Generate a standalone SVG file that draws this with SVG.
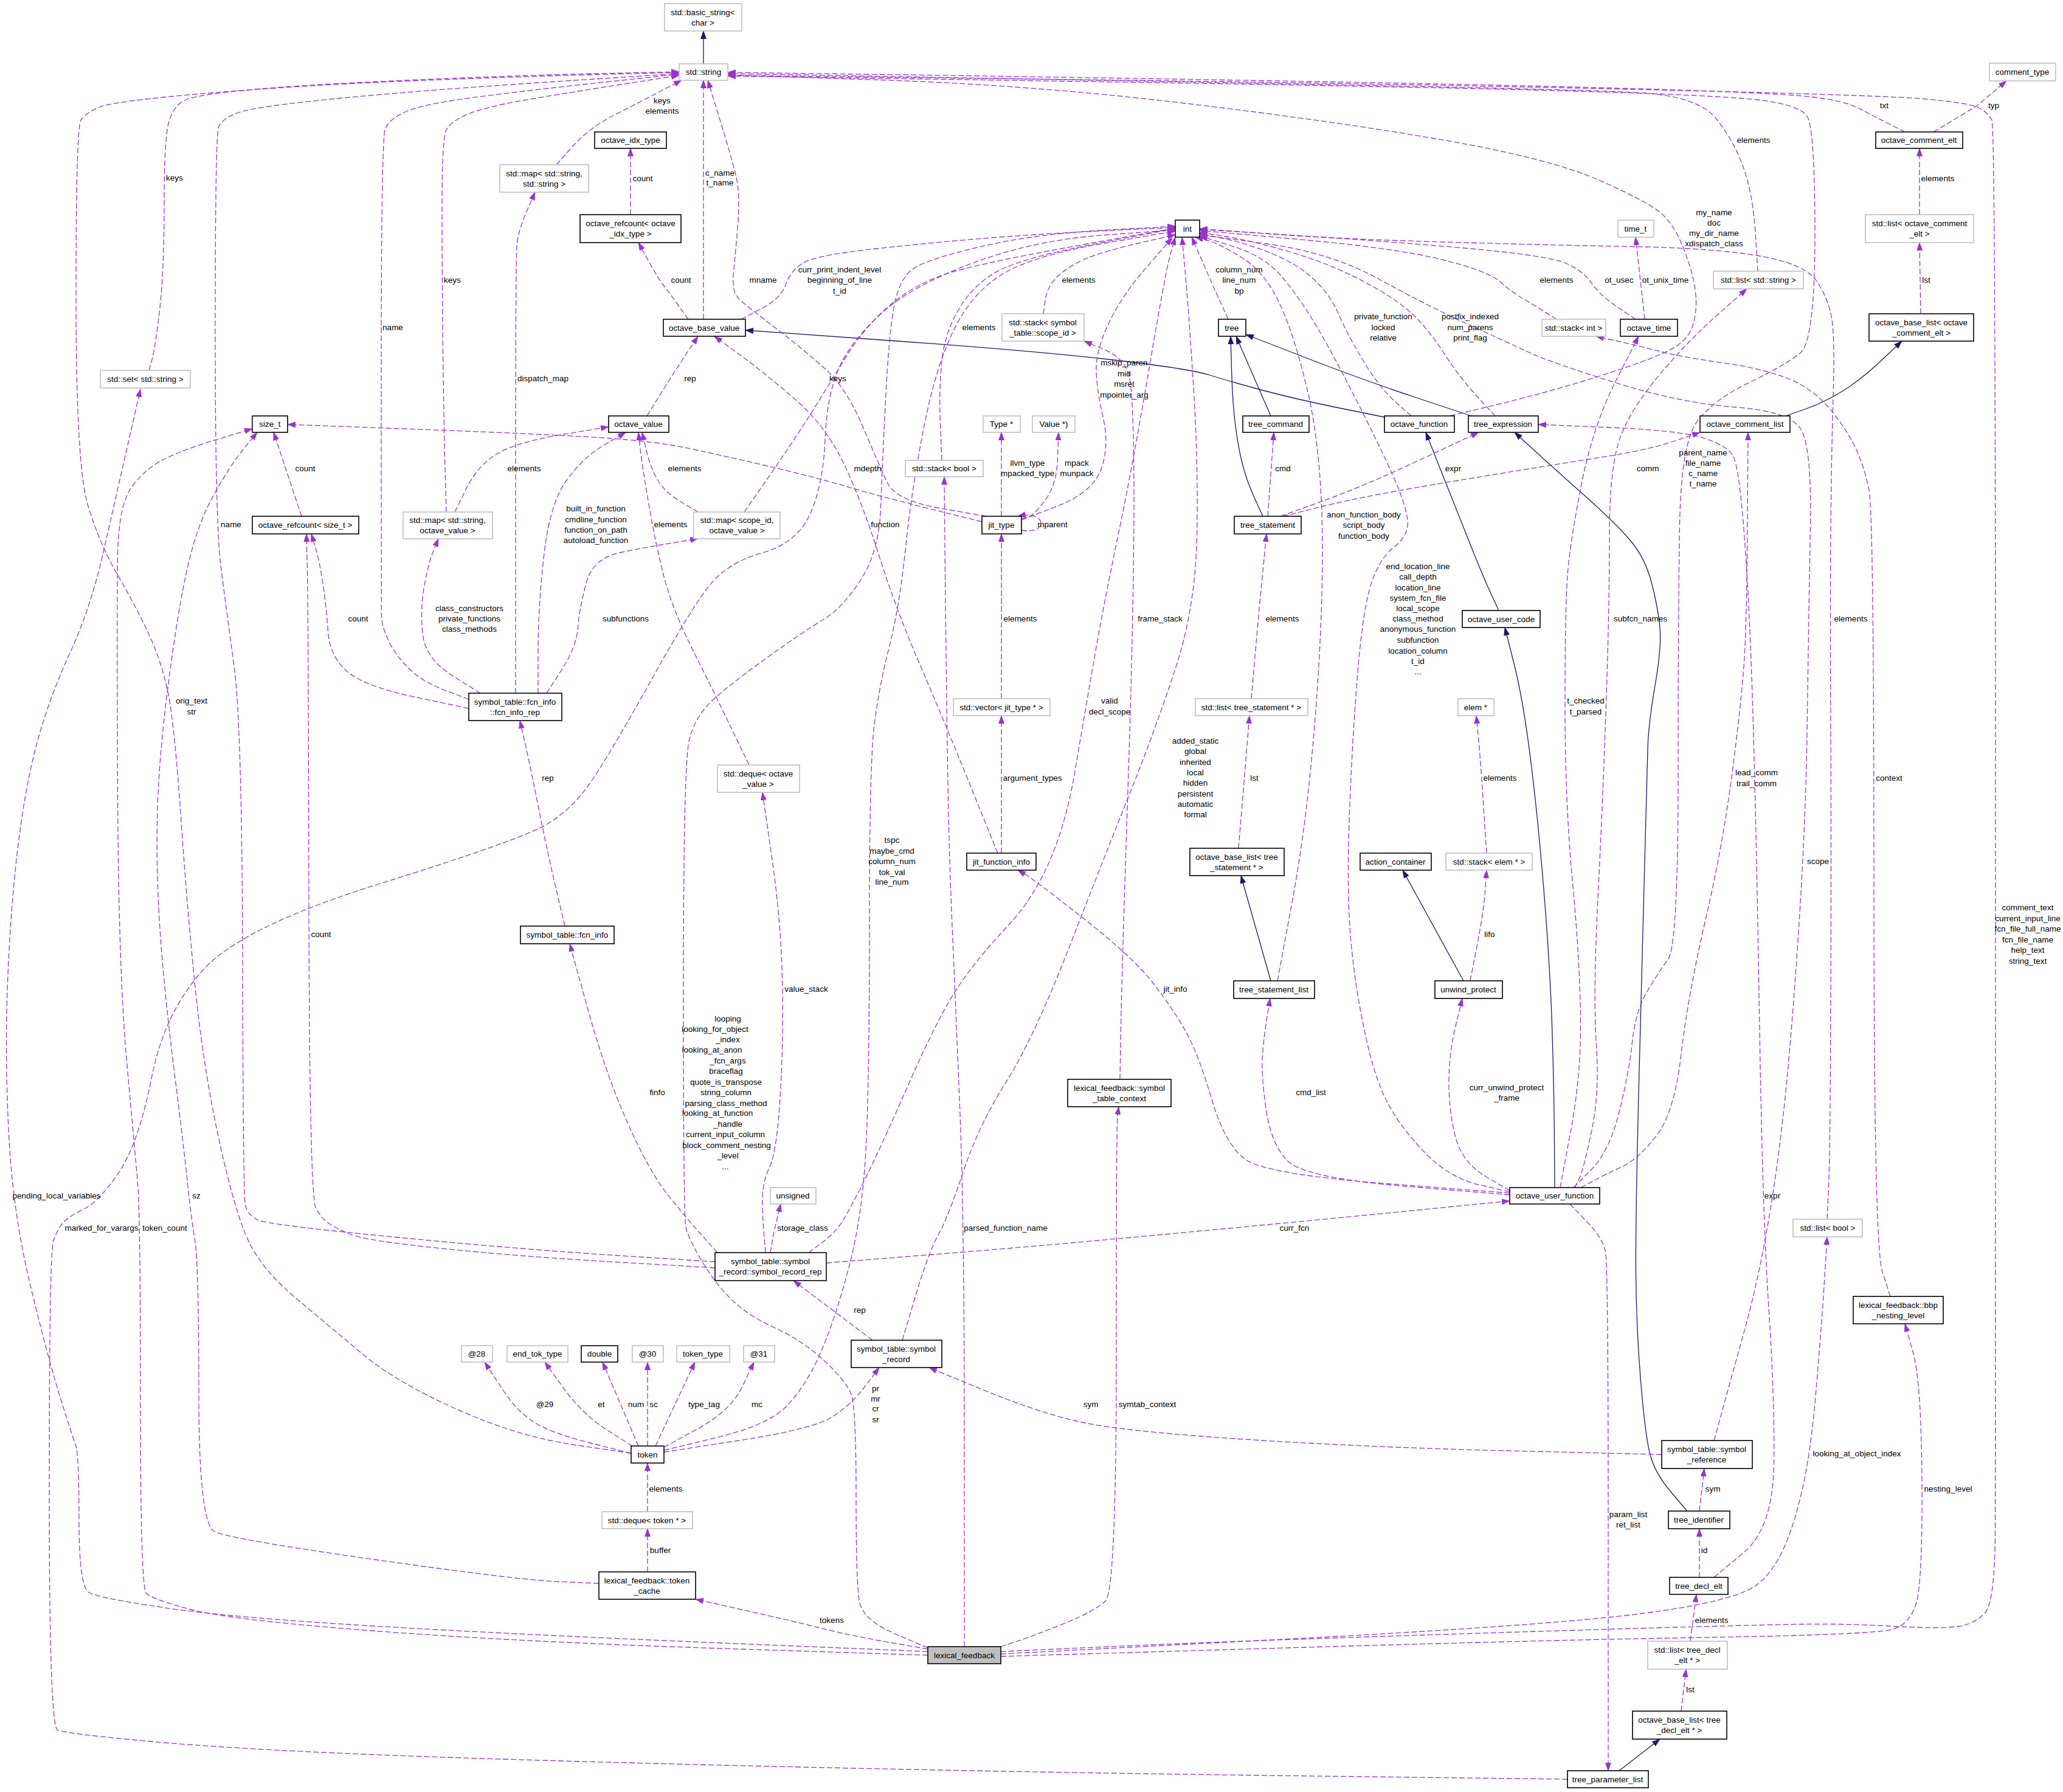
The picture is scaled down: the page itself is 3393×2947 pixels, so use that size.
<svg xmlns="http://www.w3.org/2000/svg" width="3393" height="2947" viewBox="0 0 3393 2947">
<defs>
<style>
text{font-family:"Liberation Sans",Arial,sans-serif;font-size:13.5px;fill:#000;text-anchor:middle}
.n rect{fill:#fff;stroke:#000;stroke-width:1.6}
.g rect{fill:#fff;stroke:#bfbfbf;stroke-width:1.6}
.r rect{fill:#bfbfbf;stroke:#000;stroke-width:1.6}
#edges path.e{fill:none;stroke:#9a32cd;stroke-width:1.3;stroke-dasharray:9,4;marker-end:url(#ap)}
#edges path.i{fill:none;stroke:#191970;stroke-width:1.3;marker-end:url(#an)}
</style>
<marker id="ap" viewBox="0 0 14 10" refX="13" refY="5" markerWidth="14" markerHeight="10" markerUnits="userSpaceOnUse" orient="auto"><path d="M0,0 L14,5 L0,10 z" fill="#9a32cd" stroke="none"/></marker>
<marker id="an" viewBox="0 0 14 10" refX="13" refY="5" markerWidth="14" markerHeight="10" markerUnits="userSpaceOnUse" orient="auto"><path d="M0,0 L14,5 L0,10 z" fill="#191970" stroke="none"/></marker>
</defs>
<rect width="3393" height="2947" fill="#fff"/>
<g id="edges">
<path class="i" d="M1157,105 L1157,51"/>
<path class="i" d="M2277,686 L2205.5,671.5 Q2134,657 2079.5,642.5 Q2025,628 1990,617 Q1955,606 1827.5,591.5 Q1700,577 1463,560 L1226,543"/>
<path class="i" d="M2090,684 L2033,553"/>
<path class="i" d="M2077,849 L2063.5,819.5 Q2050,790 2043,761.5 Q2036,733 2031.5,696.5 Q2027,660 2025.5,606.5 L2024,553"/>
<path class="i" d="M2420,684 L2331,654.5 Q2242,625 2145.5,587.5 L2049,550"/>
<path class="i" d="M2465,1004 L2452.5,977 Q2440,950 2420,900 Q2400,850 2372.5,780.5 L2345,711"/>
<path class="i" d="M2557,1953 L2556.5,1876.5 Q2556,1800 2553,1700 Q2550,1600 2540,1475 Q2530,1350 2517.5,1250 Q2505,1150 2490,1091 L2475,1032"/>
<path class="i" d="M2090,1613 L2041,1440"/>
<path class="i" d="M2407,1613 L2307,1431"/>
<path class="i" d="M2937,684 L2968.5,673 Q3000,662 3030,643.5 Q3060,625 3094,593 L3128,561"/>
<path class="i" d="M2775,2485 L2748.5,2454 Q2722,2423 2714,2392.5 Q2706,2362 2698.5,2271.5 Q2691,2181 2690.5,2090.5 Q2690,2000 2695,1800 Q2700,1600 2704.5,1437 Q2709,1274 2710,1232.5 Q2711,1191 2722,1127.5 Q2733,1064 2730,1032 Q2727,1000 2716.5,959 Q2706,918 2682,889.5 Q2658,861 2604,813 Q2550,765 2520.5,738 L2491,711"/>
<path class="i" d="M2663,2912 L2730,2860"/>
<path class="e" d="M245,609 L250,591.5 Q255,574 262.5,510 Q270,446 270,334.5 Q270,223 278.5,197.5 Q287,172 306,164 Q325,156 406.5,148 Q488,140 669,132 Q850,124 983.5,121 L1117,118"/>
<path class="e" d="M1038,2390 L944,2376 Q850,2362 750,2317 Q650,2272 596,2226.5 Q542,2181 488,2136 Q434,2091 411,2045.5 Q388,2000 362,1882.5 Q336,1765 322.5,1637.5 Q309,1510 298,1350.5 Q287,1191 276.5,1140 Q266,1089 245.5,1044.5 Q225,1000 194,946.5 Q163,893 144,829 Q125,765 125,487.5 Q125,210 133,197.5 Q141,185 165.5,175.5 Q190,166 345,153 Q500,140 675,133 Q850,126 983.5,122.5 L1117,119"/>
<path class="e" d="M1176,2075 L1013,2064.5 Q850,2054 650,2034.5 Q450,2015 428,2007.5 Q406,2000 403,1978.5 Q400,1957 399,1574 Q398,1191 385,1095.5 Q372,1000 363,930 Q354,860 354,541.5 Q354,223 359.5,209 Q365,195 392.5,185 Q420,175 560,161.5 Q700,148 908.5,134.5 L1117,121"/>
<path class="e" d="M771,1150 L732.5,1135.5 Q694,1121 672,1099 Q650,1077 639,1053.5 Q628,1030 627.5,1015 Q627,1000 627,615 Q627,230 633.5,212.5 Q640,195 670,182.5 Q700,170 800,157.5 Q900,145 1008.5,133.5 L1117,122"/>
<path class="e" d="M734,842 L732,771 Q730,700 728.5,575 Q727,450 727,340 Q727,230 733.5,215 Q740,200 770,187.5 Q800,175 875,162.5 Q950,150 1033.5,137 L1117,124"/>
<path class="e" d="M915,271 L942,240.5 Q969,210 1012.5,188 Q1056,166 1088.5,149 L1121,132"/>
<path class="e" d="M1157,525 L1157,132"/>
<path class="e" d="M1622,849 L1547.5,836 Q1473,823 1459.5,794 Q1446,765 1419,701.5 Q1392,638 1356.5,606 Q1321,574 1275,539 Q1229,504 1218.5,494.5 Q1208,485 1206.5,472.5 Q1205,460 1206.5,447 Q1208,434 1213,376.5 Q1218,319 1210,287 Q1202,255 1183,193.5 L1164,132"/>
<path class="e" d="M3133,217 L3106.5,203.5 Q3080,190 3057,178 Q3034,166 2980,159.5 Q2926,153 2713,146.5 Q2500,140 2100,133 Q1700,126 1448.5,122.5 L1197,119"/>
<path class="e" d="M2891,446 L2887,382.5 Q2883,319 2867,274.5 Q2851,230 2821.5,194 Q2792,158 2696,152.5 Q2600,147 2150,138.5 Q1700,130 1448.5,125.5 L1197,121"/>
<path class="e" d="M2385,684 L2467.5,664 Q2550,644 2630.5,618.5 Q2711,593 2743.5,577 Q2776,561 2784,535.5 Q2792,510 2788.5,480 Q2785,450 2769.5,410 Q2754,370 2732.5,351 Q2711,332 2630.5,296.5 Q2550,261 2375,230.5 Q2200,200 1950,170 Q1700,140 1448.5,131.5 L1197,123"/>
<path class="e" d="M2588,1953 L2617.5,1923 Q2647,1893 2663,1829 Q2679,1765 2684.5,1714 Q2690,1663 2708.5,1631.5 Q2727,1600 2743.5,1577.5 Q2760,1555 2760,1277.5 Q2760,1000 2762.5,863.5 Q2765,727 2792,692 Q2819,657 2878,628.5 Q2937,600 2961,580.5 Q2985,561 2985,385.5 Q2985,210 2972,191 Q2959,172 2889,164 Q2819,156 2559.5,149 Q2300,142 1748.5,133.5 L1197,125"/>
<path class="e" d="M1646,2716 L1823,2708 Q2000,2700 2275,2691 Q2550,2682 2725,2677 Q2900,2672 2967,2671 Q3034,2670 3114.5,2674.5 Q3195,2679 3222,2674.5 Q3249,2670 3265,2652 Q3281,2634 3281.5,2517 Q3282,2400 3282,1305 Q3282,210 3276,197.5 Q3270,185 3254,177 Q3238,169 3163,162.5 Q3088,156 2644,146 Q2200,136 1698.5,130 L1197,124"/>
<path class="e" d="M1219,525 L1251.5,508 Q1284,491 1292,468.5 Q1300,446 1319,433.5 Q1338,421 1419,411.5 Q1500,402 1600,393.5 Q1700,385 1816.5,379.5 L1933,374"/>
<path class="e" d="M2020,525 L2007.5,497.5 Q1995,470 1977.5,430 L1960,390"/>
<path class="e" d="M2321,684 L2295,661 Q2269,638 2242,593 Q2215,548 2201.5,516.5 Q2188,485 2161,459.5 Q2134,434 2092,417 Q2050,400 2011.5,392 L1973,384"/>
<path class="e" d="M2459,684 L2429.5,652 Q2400,620 2375,581 Q2350,542 2323,516.5 Q2296,491 2242,462.5 Q2188,434 2124,415 Q2060,396 2016.5,389 L1973,382"/>
<path class="e" d="M2560,525 L2540,512.5 Q2520,500 2503,490 Q2486,480 2467,463 Q2448,446 2372,427 Q2296,408 2134.5,393.5 L1973,379"/>
<path class="e" d="M2690,525 L2660.5,505 Q2631,485 2617.5,465.5 Q2604,446 2577,433.5 Q2550,421 2425,409.5 Q2300,398 2136.5,387.5 L1973,377"/>
<path class="e" d="M3005,2005 L3007.5,1952.5 Q3010,1900 3011,1650 Q3012,1400 3011,1200 Q3010,1000 3011,876 Q3012,752 3015,653.5 Q3018,555 3012.5,523 Q3007,491 2988,462.5 Q2969,434 2894,421 Q2819,408 2684.5,405.5 Q2550,403 2375,398 Q2200,393 2086.5,384.5 L1973,376"/>
<path class="e" d="M2819,2369 L2870,2184.5 Q2921,2000 2945,1708 Q2969,1416 2972,1208 Q2975,1000 2977.5,866.5 Q2980,733 2961,704.5 Q2942,676 2853.5,669.5 Q2765,663 2657.5,629.5 Q2550,596 2512.5,578.5 Q2475,561 2412.5,532.5 Q2350,504 2269,459.5 Q2188,415 2080.5,400.5 L1973,386"/>
<path class="e" d="M2483,1960 L2433,1948.5 Q2383,1937 2341.5,1893.5 Q2300,1850 2279,1807.5 Q2258,1765 2241.5,1682.5 Q2225,1600 2220,1523 Q2215,1446 2220,1323 Q2225,1200 2233.5,1100 Q2242,1000 2255.5,959 Q2269,918 2293.5,899 Q2318,880 2315,854.5 Q2312,829 2290.5,781 Q2269,733 2228.5,653.5 Q2188,574 2161,529.5 Q2134,485 2106.5,453 Q2079,421 2026,404.5 L1973,388"/>
<path class="e" d="M2101,1613 L2125.5,1481.5 Q2150,1350 2163.5,1175 Q2177,1000 2174.5,866.5 Q2172,733 2150,640.5 Q2128,548 2103.5,497 Q2079,446 2041.5,423 Q2004,400 1985,395 L1966,390"/>
<path class="e" d="M1484,2204 L1505.5,2132 Q1527,2060 1543.5,2030 Q1560,2000 1585,1925 Q1610,1850 1655,1779 Q1700,1708 1760,1554 Q1820,1400 1860,1300 Q1900,1200 1933,1100 Q1966,1000 1968.5,882.5 Q1971,765 1963,637.5 Q1955,510 1949.5,450 L1944,390"/>
<path class="e" d="M1330,2060 L1350,2045 Q1370,2030 1381,2015 Q1392,2000 1419,1946.5 Q1446,1893 1495,1781.5 Q1544,1670 1576.5,1622 Q1609,1574 1654.5,1526 Q1700,1478 1727,1414.5 Q1754,1351 1767.5,1271 Q1781,1191 1797.5,1095.5 Q1814,1000 1838.5,882.5 Q1863,765 1890,605.5 Q1917,446 1925,418 L1933,390"/>
<path class="e" d="M1092,2385 L1177,2364.5 Q1262,2344 1292,2314 Q1322,2284 1346,2232.5 Q1370,2181 1394.5,2090.5 Q1419,2000 1424.5,1882.5 Q1430,1765 1430,1510 Q1430,1255 1438,1191.5 Q1446,1128 1462.5,1064 Q1479,1000 1489.5,900 Q1500,800 1520,700 Q1540,600 1570,540 Q1600,480 1650,450 Q1700,420 1816.5,400 L1933,380"/>
<path class="e" d="M1526,2710 L1472.5,2687 Q1419,2664 1413.5,2634 Q1408,2604 1408,2459 Q1408,2314 1400,2293 Q1392,2272 1356.5,2238.5 Q1321,2205 1275,2184 Q1229,2163 1202,2136 Q1175,2109 1153.5,2072.5 Q1132,2036 1128,2018 Q1124,2000 1124,1627.5 Q1124,1255 1133.5,1217 Q1143,1179 1170,1153.5 Q1197,1128 1259.5,1083 Q1322,1038 1354,1019 Q1386,1000 1416,953 Q1446,906 1448.5,835.5 Q1451,765 1456.5,656.5 Q1462,548 1470.5,503.5 Q1479,459 1500.5,443 Q1522,427 1611,406 Q1700,385 1816.5,378.5 L1933,372"/>
<path class="e" d="M2578,2926 L2139,2920.5 Q1700,2915 1275,2905 Q850,2895 614.5,2885.5 Q379,2876 243.5,2863.5 Q108,2851 94.5,2845 Q81,2839 81,2449.5 Q81,2060 88,2040 Q95,2020 104.5,2010 Q114,2000 138.5,1988 Q163,1976 195.5,1928 Q228,1880 249.5,1771.5 Q271,1663 336,1593 Q401,1523 625.5,1453 Q850,1383 896,1357.5 Q942,1332 977.5,1277.5 Q1013,1223 1075,1111.5 Q1137,1000 1167,962.5 Q1197,925 1254,909 Q1311,893 1332.5,845 Q1354,797 1357,723.5 Q1360,650 1380,605 Q1400,560 1450,515 Q1500,470 1600,432.5 Q1700,395 1816.5,386.5 L1933,378"/>
<path class="e" d="M1549,757 L1546.5,697.5 Q1544,638 1549.5,590 Q1555,542 1582,500.5 Q1609,459 1654.5,439.5 Q1700,420 1816.5,398 L1933,376"/>
<path class="e" d="M1224,842 L1262,787.5 Q1300,733 1329.5,686.5 Q1359,640 1389.5,590 Q1420,540 1460,505 Q1500,470 1550,452.5 Q1600,435 1766.5,405 L1933,375"/>
<path class="e" d="M1680,855 L1738.5,832.5 Q1797,810 1811,771.5 Q1825,733 1814,685.5 Q1803,638 1803,606 Q1803,574 1824.5,529.5 Q1846,485 1887,438 L1928,391"/>
<path class="e" d="M1716,516 L1719,494 Q1722,472 1738,456 Q1754,440 1781,427.5 Q1808,415 1870.5,400.5 L1933,386"/>
<path class="e" d="M1037,353 L1037,244"/>
<path class="e" d="M1132,525 L1116,502.5 Q1100,480 1091.5,469.5 Q1083,459 1066.5,429 L1050,399"/>
<path class="e" d="M1064,684 L1087,647 Q1110,610 1129,581.5 L1148,553"/>
<path class="e" d="M748,842 L767,803.5 Q786,765 818,746 Q850,727 925.5,714.5 L1001,702"/>
<path class="e" d="M1148,842 L1121,826 Q1094,810 1082,790 Q1070,770 1063,740.5 L1056,711"/>
<path class="e" d="M1232,1258 L1203.5,1199 Q1175,1140 1140,1070 Q1105,1000 1091.5,946.5 Q1078,893 1067,829 Q1056,765 1053,738 L1050,711"/>
<path class="e" d="M885,1140 L885,1070 Q885,1000 894.5,914.5 Q904,829 931,791 Q958,753 993.5,732 L1029,711"/>
<path class="e" d="M899,1140 L923.5,1102 Q948,1064 950.5,1032 Q953,1000 964,959 Q975,918 1021,908.5 Q1067,899 1107.5,892.5 L1148,886"/>
<path class="e" d="M790,1140 L744.5,1111.5 Q699,1083 695,1041.5 Q691,1000 698,962.5 Q705,925 713,905.5 L721,886"/>
<path class="e" d="M848,1140 L848,785 Q848,430 850,405 Q852,380 866,348 L880,316"/>
<path class="e" d="M771,1165 L683.5,1146.5 Q596,1128 569,1102.5 Q542,1077 539.5,1038.5 Q537,1000 531.5,962.5 Q526,925 519,901.5 L512,878"/>
<path class="e" d="M496,849 L450,711"/>
<path class="e" d="M1176,2085 L1013,2075.5 Q850,2066 725,2053 Q600,2040 576.5,2030 Q553,2020 541.5,2012.5 Q530,2005 519.5,1987 Q509,1969 508,1484.5 Q507,1000 505.5,939 L504,878"/>
<path class="e" d="M1526,2722 L1188,2711 Q850,2700 614.5,2682 Q379,2664 314.5,2647 Q250,2630 240.5,2620 Q231,2610 231,2305 Q231,2000 226.5,1946.5 Q222,1893 208.5,1746.5 Q195,1600 193.5,1300 Q192,1000 193.5,914.5 Q195,829 217.5,799.5 Q240,770 270,755 Q300,740 357.5,722.5 L415,705"/>
<path class="e" d="M1526,2716 L1188,2702 Q850,2688 614.5,2674 Q379,2660 271,2644 Q163,2628 146.5,2619 Q130,2610 130,2501 Q130,2392 124.5,2377 Q119,2362 100,2301.5 Q81,2241 51.5,2120.5 Q22,2000 15,1875 Q8,1750 12,1630 Q16,1510 28,1405 Q40,1300 60,1225 Q80,1150 114.5,1075 Q149,1000 169.5,910 Q190,820 210.5,730 L231,640"/>
<path class="e" d="M985,2604 L917.5,2601 Q850,2598 614.5,2564.5 Q379,2531 353,2519 Q327,2507 327,2292.5 Q327,2078 320.5,2039 Q314,2000 308.5,1946.5 Q303,1893 287,1765.5 Q271,1638 264,1542 Q257,1446 258.5,1350.5 Q260,1255 276.5,1127.5 Q293,1000 309,930.5 Q325,861 352,813 Q379,765 401,738 L423,711"/>
<path class="e" d="M1615,858 L1530.5,837 Q1446,816 1392,800 Q1338,784 1256.5,765 Q1175,746 1121,735 Q1067,724 958.5,718 Q850,712 661.5,705 L473,698"/>
<path class="e" d="M1647,849 L1647,711"/>
<path class="e" d="M1680,853 L1690,850.5 Q1700,848 1719,822.5 Q1738,797 1739.5,754 L1741,711"/>
<path class="e" d="M1680,872 C1725,880 1722,838 1674,849"/>
<path class="e" d="M1647,1149 L1647,878"/>
<path class="e" d="M1647,1403 L1647,1177"/>
<path class="e" d="M1641,1403 L1598,1297 Q1555,1191 1514,1095.5 Q1473,1000 1446,914.5 Q1419,829 1389,765 Q1359,701 1307.5,656.5 Q1256,612 1215.5,582.5 L1175,553"/>
<path class="e" d="M2483,1962 L2281,1946.5 Q2079,1931 2046.5,1905.5 Q2014,1880 1992.5,1806.5 Q1971,1733 1949.5,1695 Q1928,1657 1895.5,1615.5 Q1863,1574 1781.5,1510 Q1700,1446 1687,1438.5 L1674,1431"/>
<path class="e" d="M1842,1775 L1843.5,1687.5 Q1845,1600 1855,1300 Q1865,1000 1865,819 Q1865,638 1855.5,612.5 Q1846,587 1814.5,574 L1783,561"/>
<path class="e" d="M1646,2708 L1673,2699 Q1700,2690 1750,2670 Q1800,2650 1818,2633 Q1836,2616 1836,2233 Q1836,1850 1838,1835 L1840,1820"/>
<path class="e" d="M1586,2708 L1586,2354 Q1586,2000 1578.5,1819 Q1571,1638 1565.5,1510.5 Q1560,1383 1557.5,1191.5 Q1555,1000 1554,892 L1553,784"/>
<path class="e" d="M1526,2712 L1463,2701 Q1400,2690 1350,2677.5 Q1300,2665 1222,2647.5 L1144,2630"/>
<path class="e" d="M1065,2585 L1065,2514"/>
<path class="e" d="M1065,2486 L1065,2406"/>
<path class="e" d="M1038,2390 L971,2373 Q904,2356 877,2338 Q850,2320 830,2290 Q810,2260 803.5,2250 L797,2240"/>
<path class="e" d="M1040,2378 L999,2352 Q958,2326 927,2283 L896,2240"/>
<path class="e" d="M1050,2378 L991,2240"/>
<path class="e" d="M1065,2378 L1065,2240"/>
<path class="e" d="M1078,2378 L1143,2240"/>
<path class="e" d="M1092,2380 L1147,2350 Q1202,2320 1221,2280 L1240,2240"/>
<path class="e" d="M1092,2388 L1215,2369 Q1338,2350 1369,2330 Q1400,2310 1423,2279.5 L1446,2249"/>
<path class="e" d="M1435,2204 L1305,2106"/>
<path class="e" d="M2733,2392 L2487.5,2386 Q2242,2380 2039,2366.5 Q1836,2353 1768,2336.5 Q1700,2320 1614,2284.5 L1528,2249"/>
<path class="e" d="M1180,2060 L1153,2030 Q1126,2000 1096.5,1962.5 Q1067,1925 1031.5,1845 Q996,1765 966.5,1658.5 L937,1552"/>
<path class="e" d="M1259,2060 L1256.5,2030 Q1254,2000 1254,1972 Q1254,1944 1266,1918.5 Q1278,1893 1283.5,1797.5 Q1289,1702 1286.5,1606 Q1284,1510 1269,1406.5 L1254,1303"/>
<path class="e" d="M1267,2060 L1272,2030 L1284,1980"/>
<path class="e" d="M1359,2077 L1529.5,2063.5 Q1700,2050 1914.5,2030 Q2129,2010 2306,1992.5 L2483,1975"/>
<path class="e" d="M929,1523 L914.5,1461.5 Q900,1400 885,1325 Q870,1250 862.5,1217.5 L855,1185"/>
<path class="e" d="M2483,1965 L2313.5,1951 Q2144,1937 2117,1908.5 Q2090,1880 2082,1822.5 Q2074,1765 2076.5,1733.5 Q2079,1702 2084,1672 L2089,1642"/>
<path class="e" d="M2483,1958 L2444,1935 Q2405,1912 2394,1870.5 Q2383,1829 2383,1781 Q2383,1733 2394,1687.5 L2405,1642"/>
<path class="e" d="M2418,1613 L2429,1556.5 Q2440,1500 2442.5,1465.5 L2445,1431"/>
<path class="e" d="M2445,1403 L2440,1326.5 Q2435,1250 2431.5,1213.5 L2428,1177"/>
<path class="e" d="M2037,1395 L2055,1177"/>
<path class="e" d="M2058,1149 L2064.5,1074.5 Q2071,1000 2077,939 L2083,878"/>
<path class="e" d="M2085,849 L2095,711"/>
<path class="e" d="M2106,849 L2174,824.5 Q2242,800 2337,755.5 L2432,711"/>
<path class="e" d="M2110,849 L2176,832.5 Q2242,816 2396,790.5 Q2550,765 2630.5,752.5 Q2711,740 2753.5,725.5 L2796,711"/>
<path class="e" d="M2600,1953 L2620.5,1942 Q2641,1931 2668,1918.5 Q2695,1906 2724.5,1867.5 Q2754,1829 2765,1733.5 Q2776,1638 2805.5,1510.5 Q2835,1383 2851,1255.5 Q2867,1128 2870,1064 Q2873,1000 2874,855.5 L2875,711"/>
<path class="e" d="M2819,2594 L2867.5,2553.5 Q2916,2513 2917.5,2407.5 Q2919,2302 2909,2151 Q2899,2000 2894,1691.5 Q2889,1383 2883.5,1191.5 Q2878,1000 2869,882.5 Q2860,765 2850,749 Q2840,733 2802.5,720.5 Q2765,708 2647.5,703 L2530,698"/>
<path class="e" d="M2590,1953 L2597,1939 Q2604,1925 2617.5,1861 Q2631,1797 2625.5,1717.5 Q2620,1638 2628,1478.5 Q2636,1319 2641.5,1159.5 Q2647,1000 2647,882.5 Q2647,765 2665.5,717.5 Q2684,670 2730,615.5 Q2776,561 2824.5,518 L2873,475"/>
<path class="e" d="M2566,1953 L2583.5,1859 Q2601,1765 2599.5,1669.5 Q2598,1574 2586,1446.5 Q2574,1319 2574,1159.5 Q2574,1000 2578,946.5 Q2582,893 2601,796.5 Q2620,700 2657.5,626.5 L2695,553"/>
<path class="e" d="M2582,1980 L2609,2008 Q2636,2036 2640.5,2058 Q2645,2080 2645,2496 L2645,2912"/>
<path class="e" d="M2795,2485 L2803,2415"/>
<path class="e" d="M2795,2594 L2795,2514"/>
<path class="e" d="M2780,2699 L2790,2622"/>
<path class="e" d="M2765,2814 L2773,2745"/>
<path class="e" d="M1646,2720 L2098,2696.5 Q2550,2673 2700.5,2653.5 Q2851,2634 2888.5,2607 Q2926,2580 2950.5,2501.5 Q2975,2423 2985.5,2302 Q2996,2181 3000.5,2107.5 L3005,2034"/>
<path class="e" d="M1646,2724 L2098,2710.5 Q2550,2697 2819,2692.5 Q3088,2688 3114.5,2679 Q3141,2670 3151.5,2637 Q3162,2604 3161,2438 Q3160,2272 3146.5,2224.5 L3133,2177"/>
<path class="e" d="M3109,2132 L3095.5,2090 Q3082,2048 3082,1448 Q3082,848 3074,806.5 Q3066,765 3050,733 Q3034,701 3007,669.5 Q2980,638 2939.5,622 Q2899,606 2832,596.5 Q2765,587 2732.5,578.5 Q2700,570 2662.5,561.5 L2625,553"/>
<path class="e" d="M3180,217 L3250,175 L3300,133"/>
<path class="e" d="M3157,353 L3157,244"/>
<path class="e" d="M3159,516 L3157,399"/>
<path class="e" d="M2705,525 L2690,390"/>
</g>
<g id="edge-labels">
<text x="287" y="297">keys</text>
<text x="1089" y="170">keys</text><text x="1089" y="187">elements</text>
<text x="1057" y="298">count</text>
<text x="1184" y="289">c_name</text><text x="1184" y="305">t_name</text>
<text x="1120" y="465">count</text>
<text x="1255" y="465">mname</text>
<text x="1381" y="448">curr_print_indent_level</text><text x="1381" y="465">beginning_of_line</text><text x="1381" y="483">t_id</text>
<text x="893" y="627">dispatch_map</text>
<text x="1135" y="627">rep</text>
<text x="1378" y="627">keys</text>
<text x="1610" y="543">elements</text>
<text x="862" y="775">elements</text>
<text x="502" y="775">count</text>
<text x="1126" y="775">elements</text>
<text x="1427" y="775">mdepth</text>
<text x="1690" y="766">llvm_type</text><text x="1690" y="783">mpacked_type</text>
<text x="1771" y="766">mpack</text><text x="1771" y="783">munpack</text>
<text x="980" y="841">built_in_function</text><text x="980" y="859">cmdline_function</text><text x="980" y="876">function_on_path</text><text x="980" y="893">autoload_function</text>
<text x="1103" y="867">elements</text>
<text x="1456" y="867">function</text>
<text x="1731" y="867">mparent</text>
<text x="744" y="465">keys</text>
<text x="646" y="543">name</text>
<text x="380" y="867">name</text>
<text x="1774" y="465">elements</text>
<text x="2038" y="448">column_num</text><text x="2038" y="465">line_num</text><text x="2038" y="483">bp</text>
<text x="2275" y="525">private_function</text><text x="2275" y="543">locked</text><text x="2275" y="560">relative</text>
<text x="2418" y="525">postfix_indexed</text><text x="2418" y="543">num_parens</text><text x="2418" y="560">print_flag</text>
<text x="1849" y="601">mskip_paren</text><text x="1849" y="619">mid</text><text x="1849" y="636">msret</text><text x="1849" y="654">mpointer_arg</text>
<text x="2110" y="775">cmd</text>
<text x="2390" y="775">expr</text>
<text x="2243" y="851">anon_function_body</text><text x="2243" y="868">script_body</text><text x="2243" y="886">function_body</text>
<text x="2332" y="936">end_location_line</text><text x="2332" y="953">call_depth</text><text x="2332" y="971">location_line</text><text x="2332" y="988">system_fcn_file</text><text x="2332" y="1005">local_scope</text><text x="2332" y="1022">class_method</text><text x="2332" y="1039">anonymous_function</text><text x="2332" y="1057">subfunction</text><text x="2332" y="1075">location_column</text><text x="2332" y="1092">t_id</text><text x="2332" y="1109">...</text>
<text x="3099" y="178">txt</text>
<text x="3279" y="178">typ</text>
<text x="2884" y="235">elements</text>
<text x="3187" y="298">elements</text>
<text x="2819" y="354">my_name</text><text x="2819" y="371">doc</text><text x="2819" y="388">my_dir_name</text><text x="2819" y="405">xdispatch_class</text>
<text x="2663" y="465">ot_usec</text>
<text x="2739" y="465">ot_unix_time</text>
<text x="2560" y="465">elements</text>
<text x="3168" y="465">lst</text>
<text x="2710" y="775">comm</text>
<text x="2801" y="749">parent_name</text><text x="2801" y="766">file_name</text><text x="2801" y="783">c_name</text><text x="2801" y="800">t_name</text>
<text x="589" y="1022">count</text>
<text x="772" y="1005">class_constructors</text><text x="772" y="1022">private_functions</text><text x="772" y="1039">class_methods</text>
<text x="315" y="1157">orig_text</text><text x="315" y="1175">str</text>
<text x="528" y="1541">count</text>
<text x="93" y="1971">pending_local_variables</text>
<text x="323" y="1971">sz</text>
<text x="1029" y="1022">subfunctions</text>
<text x="901" y="1284">rep</text>
<text x="1326" y="1631">value_stack</text>
<text x="1081" y="1801">finfo</text>
<text x="1467" y="1386">tspc</text><text x="1467" y="1404">maybe_cmd</text><text x="1467" y="1421">column_num</text><text x="1467" y="1439">tok_val</text><text x="1467" y="1455">line_num</text>
<text x="1197" y="1680">looping</text><text x="1176" y="1697">looking_for_object</text><text x="1197" y="1714">_index</text><text x="1171" y="1731">looking_at_anon</text><text x="1197" y="1749">_fcn_args</text><text x="1194" y="1766">braceflag</text><text x="1194" y="1784">quote_is_transpose</text><text x="1194" y="1801">string_column</text><text x="1194" y="1819">parsing_class_method</text><text x="1180" y="1835">looking_at_function</text><text x="1197" y="1853">_handle</text><text x="1193" y="1870">current_input_column</text><text x="1195" y="1888">block_comment_nesting</text><text x="1197" y="1905">_level</text><text x="1193" y="1923">...</text>
<text x="1678" y="1022">elements</text>
<text x="1698" y="1284">argument_types</text>
<text x="1908" y="1022">frame_stack</text>
<text x="2109" y="1022">elements</text>
<text x="1825" y="1157">valid</text><text x="1825" y="1175">decl_scope</text>
<text x="1966" y="1223">added_static</text><text x="1966" y="1240">global</text><text x="1966" y="1258">inherited</text><text x="1966" y="1275">local</text><text x="1966" y="1292">hidden</text><text x="1966" y="1310">persistent</text><text x="1966" y="1327">automatic</text><text x="1966" y="1344">formal</text>
<text x="2063" y="1284">lst</text>
<text x="2467" y="1284">elements</text>
<text x="2450" y="1541">lifo</text>
<text x="1933" y="1631">jit_info</text>
<text x="2156" y="1801">cmd_list</text>
<text x="2478" y="1793">curr_unwind_protect</text><text x="2478" y="1810">_frame</text>
<text x="2698" y="1022">subfcn_names</text>
<text x="3044" y="1022">elements</text>
<text x="2608" y="1157">t_checked</text><text x="2608" y="1175">t_parsed</text>
<text x="2889" y="1275">lead_comm</text><text x="2889" y="1293">trail_comm</text>
<text x="3107" y="1284">context</text>
<text x="2990" y="1421">scope</text>
<text x="3335" y="1497">comment_text</text><text x="3335" y="1515">current_input_line</text><text x="3335" y="1532">fcn_file_full_name</text><text x="3335" y="1550">fcn_file_name</text><text x="3335" y="1567">help_text</text><text x="3335" y="1585">string_text</text>
<text x="2915" y="1971">expr</text>
<text x="167" y="2024">marked_for_varargs</text>
<text x="271" y="2024">token_count</text>
<text x="1320" y="2024">storage_class</text>
<text x="1414" y="2159">rep</text>
<text x="896" y="2314">@29</text>
<text x="989" y="2314">et</text>
<text x="1046" y="2314">num</text>
<text x="1075" y="2314">sc</text>
<text x="1158" y="2314">type_tag</text>
<text x="1245" y="2314">mc</text>
<text x="1440" y="2288">pr</text><text x="1440" y="2305">mr</text><text x="1440" y="2321">cr</text><text x="1440" y="2339">sr</text>
<text x="1095" y="2453">elements</text>
<text x="1086" y="2554">buffer</text>
<text x="1368" y="2669">tokens</text>
<text x="1654" y="2024">parsed_function_name</text>
<text x="2129" y="2024">curr_fcn</text>
<text x="1794" y="2314">sym</text>
<text x="1887" y="2314">symtab_context</text>
<text x="2817" y="2453">sym</text>
<text x="2803" y="2554">id</text>
<text x="2815" y="2669">elements</text>
<text x="2780" y="2783">lst</text>
<text x="2678" y="2495">param_list</text><text x="2678" y="2512">ret_list</text>
<text x="3054" y="2395">looking_at_object_index</text>
<text x="3204" y="2453">nesting_level</text>
</g>
<g id="nodes">
<g id="basic_string" class="g"><rect x="1093" y="6" width="127" height="45"/><text x="1156" y="25">std::basic_string&lt;</text><text x="1156" y="42">char &gt;</text></g>
<g id="std_string" class="g"><rect x="1117" y="105" width="80" height="27"/><text x="1157" y="123">std::string</text></g>
<g id="octave_idx_type" class="n"><rect x="978" y="217" width="118" height="27"/><text x="1037" y="235">octave_idx_type</text></g>
<g id="refcount_idx" class="n"><rect x="954" y="353" width="166" height="46"/><text x="1037" y="372">octave_refcount&lt; octave</text><text x="1037" y="389">_idx_type &gt;</text></g>
<g id="map_str_str" class="g"><rect x="822" y="271" width="146" height="45"/><text x="895" y="290">std::map&lt; std::string,</text><text x="895" y="307">std::string &gt;</text></g>
<g id="std_set" class="g"><rect x="165" y="609" width="148" height="29"/><text x="239" y="628">std::set&lt; std::string &gt;</text></g>
<g id="size_t" class="n"><rect x="415" y="684" width="58" height="27"/><text x="444" y="702">size_t</text></g>
<g id="refcount_size" class="n"><rect x="415" y="849" width="175" height="29"/><text x="502" y="868">octave_refcount&lt; size_t &gt;</text></g>
<g id="map_str_ov" class="g"><rect x="663" y="842" width="147" height="44"/><text x="736" y="860">std::map&lt; std::string,</text><text x="736" y="877">octave_value &gt;</text></g>
<g id="fcn_info_rep" class="n"><rect x="771" y="1140" width="153" height="45"/><text x="847" y="1159">symbol_table::fcn_info</text><text x="847" y="1176">::fcn_info_rep</text></g>
<g id="octave_base_value" class="n"><rect x="1091" y="525" width="135" height="28"/><text x="1158" y="544">octave_base_value</text></g>
<g id="octave_value" class="n"><rect x="1001" y="684" width="99" height="27"/><text x="1050" y="702">octave_value</text></g>
<g id="map_scope_ov" class="g"><rect x="1141" y="842" width="142" height="44"/><text x="1212" y="860">std::map&lt; scope_id,</text><text x="1212" y="877">octave_value &gt;</text></g>
<g id="stack_bool" class="g"><rect x="1489" y="757" width="128" height="27"/><text x="1553" y="775">std::stack&lt; bool &gt;</text></g>
<g id="type_ptr" class="g"><rect x="1617" y="684" width="61" height="27"/><text x="1647" y="702">Type *</text></g>
<g id="jit_type" class="n"><rect x="1615" y="849" width="65" height="29"/><text x="1647" y="868">jit_type</text></g>
<g id="stack_scope" class="g"><rect x="1648" y="516" width="135" height="45"/><text x="1715" y="535">std::stack&lt; symbol</text><text x="1715" y="552">_table::scope_id &gt;</text></g>
<g id="value_ptr" class="g"><rect x="1698" y="684" width="70" height="27"/><text x="1733" y="702">Value *)</text></g>
<g id="int" class="n"><rect x="1933" y="362" width="40" height="28"/><text x="1953" y="381">int</text></g>
<g id="tree" class="n"><rect x="2004" y="525" width="45" height="28"/><text x="2026" y="544">tree</text></g>
<g id="tree_command" class="n"><rect x="2044" y="684" width="109" height="27"/><text x="2098" y="702">tree_command</text></g>
<g id="octave_function" class="n"><rect x="2277" y="684" width="115" height="27"/><text x="2334" y="702">octave_function</text></g>
<g id="tree_expression" class="n"><rect x="2415" y="684" width="115" height="27"/><text x="2472" y="702">tree_expression</text></g>
<g id="tree_statement" class="n"><rect x="2030" y="849" width="110" height="29"/><text x="2085" y="868">tree_statement</text></g>
<g id="comment_type" class="g"><rect x="3272" y="104" width="109" height="29"/><text x="3326" y="123">comment_type</text></g>
<g id="octave_comment_elt" class="n"><rect x="3085" y="217" width="143" height="27"/><text x="3156" y="235">octave_comment_elt</text></g>
<g id="list_comment_elt" class="g"><rect x="3068" y="353" width="178" height="46"/><text x="3157" y="372">std::list&lt; octave_comment</text><text x="3157" y="389">_elt &gt;</text></g>
<g id="base_list_comment" class="n"><rect x="3074" y="516" width="172" height="45"/><text x="3160" y="535">octave_base_list&lt; octave</text><text x="3160" y="552">_comment_elt &gt;</text></g>
<g id="octave_comment_list" class="n"><rect x="2796" y="684" width="148" height="27"/><text x="2870" y="702">octave_comment_list</text></g>
<g id="time_t" class="g"><rect x="2661" y="362" width="59" height="28"/><text x="2690" y="381">time_t</text></g>
<g id="octave_time" class="n"><rect x="2665" y="525" width="94" height="28"/><text x="2712" y="544">octave_time</text></g>
<g id="list_string" class="g"><rect x="2818" y="446" width="148" height="29"/><text x="2892" y="465">std::list&lt; std::string &gt;</text></g>
<g id="stack_int" class="g"><rect x="2536" y="525" width="105" height="28"/><text x="2588" y="544">std::stack&lt; int &gt;</text></g>
<g id="deque_ov" class="g"><rect x="1180" y="1258" width="135" height="45"/><text x="1247" y="1277">std::deque&lt; octave</text><text x="1247" y="1294">_value &gt;</text></g>
<g id="fcn_info" class="n"><rect x="856" y="1523" width="154" height="29"/><text x="933" y="1542">symbol_table::fcn_info</text></g>
<g id="jit_function_info" class="n"><rect x="1590" y="1403" width="114" height="28"/><text x="1647" y="1422">jit_function_info</text></g>
<g id="vector_jit" class="g"><rect x="1568" y="1149" width="159" height="28"/><text x="1647" y="1168">std::vector&lt; jit_type * &gt;</text></g>
<g id="unsigned" class="g"><rect x="1267" y="1953" width="75" height="27"/><text x="1304" y="1971">unsigned</text></g>
<g id="octave_user_code" class="n"><rect x="2405" y="1004" width="128" height="28"/><text x="2469" y="1023">octave_user_code</text></g>
<g id="list_stmt" class="g"><rect x="1966" y="1149" width="185" height="28"/><text x="2058" y="1168">std::list&lt; tree_statement * &gt;</text></g>
<g id="elem_ptr" class="g"><rect x="2398" y="1149" width="59" height="28"/><text x="2427" y="1168">elem *</text></g>
<g id="base_list_stmt" class="n"><rect x="1957" y="1395" width="155" height="45"/><text x="2034" y="1414">octave_base_list&lt; tree</text><text x="2034" y="1431">_statement * &gt;</text></g>
<g id="action_container" class="n"><rect x="2237" y="1403" width="117" height="28"/><text x="2295" y="1422">action_container</text></g>
<g id="stack_elem" class="g"><rect x="2378" y="1403" width="142" height="28"/><text x="2449" y="1422">std::stack&lt; elem * &gt;</text></g>
<g id="tree_statement_list" class="n"><rect x="2029" y="1613" width="133" height="29"/><text x="2095" y="1632">tree_statement_list</text></g>
<g id="unwind_protect" class="n"><rect x="2360" y="1613" width="111" height="29"/><text x="2415" y="1632">unwind_protect</text></g>
<g id="symtab_context" class="n"><rect x="1756" y="1775" width="170" height="45"/><text x="1841" y="1794">lexical_feedback::symbol</text><text x="1841" y="1811">_table_context</text></g>
<g id="octave_user_function" class="n"><rect x="2483" y="1953" width="148" height="27"/><text x="2557" y="1971">octave_user_function</text></g>
<g id="at28" class="g"><rect x="759" y="2213" width="51" height="27"/><text x="784" y="2231">@28</text></g>
<g id="end_tok_type" class="g"><rect x="834" y="2213" width="100" height="27"/><text x="884" y="2231">end_tok_type</text></g>
<g id="double" class="n"><rect x="956" y="2213" width="60" height="27"/><text x="986" y="2231">double</text></g>
<g id="at30" class="g"><rect x="1040" y="2213" width="51" height="27"/><text x="1065" y="2231">@30</text></g>
<g id="token_type" class="g"><rect x="1113" y="2213" width="87" height="27"/><text x="1156" y="2231">token_type</text></g>
<g id="at31" class="g"><rect x="1223" y="2213" width="51" height="27"/><text x="1248" y="2231">@31</text></g>
<g id="symbol_record_rep" class="n"><rect x="1176" y="2060" width="183" height="46"/><text x="1267" y="2079">symbol_table::symbol</text><text x="1267" y="2096">_record::symbol_record_rep</text></g>
<g id="symbol_record" class="n"><rect x="1400" y="2204" width="149" height="45"/><text x="1474" y="2223">symbol_table::symbol</text><text x="1474" y="2240">_record</text></g>
<g id="token" class="n"><rect x="1038" y="2378" width="54" height="28"/><text x="1065" y="2397">token</text></g>
<g id="deque_token" class="g"><rect x="990" y="2486" width="149" height="28"/><text x="1064" y="2505">std::deque&lt; token * &gt;</text></g>
<g id="token_cache" class="n"><rect x="985" y="2585" width="159" height="45"/><text x="1064" y="2604">lexical_feedback::token</text><text x="1064" y="2621">_cache</text></g>
<g id="lexical_feedback" class="r"><rect x="1526" y="2708" width="120" height="28"/><text x="1586" y="2727">lexical_feedback</text></g>
<g id="list_bool" class="g"><rect x="2949" y="2005" width="114" height="29"/><text x="3006" y="2024">std::list&lt; bool &gt;</text></g>
<g id="bbp" class="n"><rect x="3048" y="2132" width="148" height="45"/><text x="3122" y="2151">lexical_feedback::bbp</text><text x="3122" y="2168">_nesting_level</text></g>
<g id="symbol_reference" class="n"><rect x="2733" y="2369" width="149" height="46"/><text x="2807" y="2388">symbol_table::symbol</text><text x="2807" y="2405">_reference</text></g>
<g id="tree_identifier" class="n"><rect x="2744" y="2485" width="101" height="29"/><text x="2794" y="2504">tree_identifier</text></g>
<g id="tree_decl_elt" class="n"><rect x="2746" y="2594" width="96" height="28"/><text x="2794" y="2613">tree_decl_elt</text></g>
<g id="list_decl" class="g"><rect x="2710" y="2699" width="131" height="46"/><text x="2775" y="2718">std::list&lt; tree_decl</text><text x="2775" y="2735">_elt * &gt;</text></g>
<g id="base_list_decl" class="n"><rect x="2685" y="2814" width="155" height="46"/><text x="2762" y="2833">octave_base_list&lt; tree</text><text x="2762" y="2850">_decl_elt * &gt;</text></g>
<g id="tree_parameter_list" class="n"><rect x="2578" y="2912" width="133" height="28"/><text x="2644" y="2931">tree_parameter_list</text></g>
</g>
</svg>
